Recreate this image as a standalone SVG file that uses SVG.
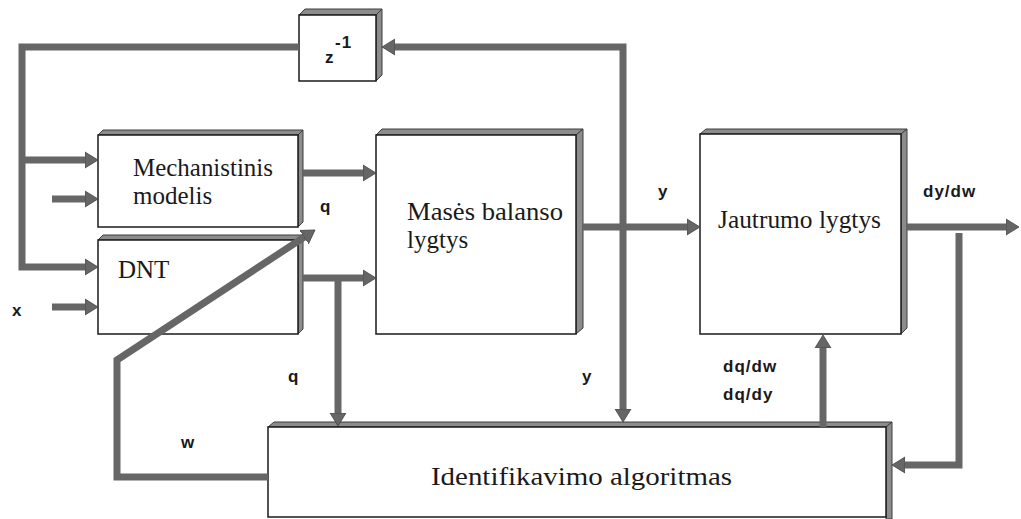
<svg xmlns="http://www.w3.org/2000/svg" width="1021" height="519" viewBox="0 0 1021 519">
  <style>
    .face { fill: #ffffff; stroke: #1a1a1a; stroke-width: 1.5; }
    .bevel { fill: #8c8c8c; stroke: #3c3c3c; stroke-width: 1; stroke-linejoin: round; }
    .wire { fill: none; stroke: #666666; stroke-width: 7; stroke-linejoin: miter; stroke-linecap: butt; }
    .head { fill: #666666; stroke: #444444; stroke-width: 0.8; }
    .box-text { font-family: "Liberation Serif", "Times New Roman", serif; font-size: 25px; fill: #1a1a1a; }
    .sig { font-family: "Liberation Sans", Arial, sans-serif; font-size: 17px; font-weight: bold; fill: #1a1a1a; letter-spacing: 1px; }
  </style>
  <defs>
    <marker id="arrow" markerUnits="userSpaceOnUse" markerWidth="16" markerHeight="18" viewBox="0 0 16 18" refX="3" refY="9" orient="auto">
      <path class="head" d="M0,1 L13,9 L0,17 z"/>
    </marker>
  </defs>

  <rect width="1021" height="519" fill="#ffffff"/>

  <!-- z^-1 delay -->
  <g id="delay">
    <polygon class="bevel" points="299,15 305,9 382,9 376,15"/>
    <polygon class="bevel" points="376,15 382,9 382,75 376,81"/>
    <rect class="face" x="299" y="15" width="77" height="66"/>
    <text class="sig" x="325" y="63" font-size="21" letter-spacing="0">z</text>
    <text class="sig" x="335" y="48" font-size="17" letter-spacing="0">-1</text>
  </g>

  <!-- mechanistic model -->
  <g id="mechanistinis">
    <polygon class="bevel" points="98,135 103,130 303,130 298,135"/>
    <polygon class="bevel" points="298,135 303,130 303,222 298,227"/>
    <rect class="face" x="98" y="135" width="200" height="92"/>
    <text class="box-text" x="133" y="176" textLength="140" lengthAdjust="spacingAndGlyphs">Mechanistinis</text>
    <text class="box-text" x="133" y="204">modelis</text>
  </g>

  <!-- neural network -->
  <g id="dnt">
    <polygon class="bevel" points="98,240 103,235 303,235 298,240"/>
    <polygon class="bevel" points="298,240 303,235 303,329 298,334"/>
    <rect class="face" x="98" y="240" width="200" height="94"/>
    <text class="box-text" x="118" y="278">DNT</text>
  </g>

  <!-- mass balance -->
  <g id="mases-balansas">
    <polygon class="bevel" points="376,135 382,129 583,129 576,135"/>
    <polygon class="bevel" points="576,135 583,129 583,328 576,334"/>
    <rect class="face" x="376" y="135" width="200" height="199"/>
    <text class="box-text" x="407" y="220" textLength="156" lengthAdjust="spacingAndGlyphs">Masės balanso</text>
    <text class="box-text" x="407" y="248">lygtys</text>
  </g>

  <!-- sensitivity equations -->
  <g id="jautrumo">
    <polygon class="bevel" points="700,134 706,129 907,129 901,134"/>
    <polygon class="bevel" points="901,134 907,129 907,328 901,334"/>
    <rect class="face" x="700" y="134" width="201" height="200"/>
    <text class="box-text" x="718" y="228" textLength="163" lengthAdjust="spacingAndGlyphs">Jautrumo lygtys</text>
  </g>

  <!-- identification algorithm -->
  <g id="identifikavimas">
    <polygon class="bevel" points="268,427 274,422 892,422 886,427"/>
    <polygon class="bevel" points="886,427 892,422 892,519 886,519"/>
    <rect class="face" x="268" y="427" width="618" height="90"/>
    <text class="box-text" x="431" y="485" font-size="28" textLength="301" lengthAdjust="spacingAndGlyphs">Identifikavimo algoritmas</text>
  </g>

  <!-- connectors, drawn over the blocks -->
  <g id="connectors">
    <!-- delayed feedback z^-1 to both model blocks -->
    <path class="wire" d="M299,47 H22 V267 H88" marker-end="url(#arrow)"/>
    <path class="wire" d="M22,160 H88" marker-end="url(#arrow)"/>
    <!-- external inputs -->
    <path class="wire" d="M52,199 H88" marker-end="url(#arrow)"/>
    <path class="wire" d="M52,307 H88" marker-end="url(#arrow)"/>
    <!-- q from both models into mass balance -->
    <path class="wire" d="M303,173 H366" marker-end="url(#arrow)"/>
    <path class="wire" d="M303,278 H366" marker-end="url(#arrow)"/>
    <path class="wire" d="M338,278 V416" marker-end="url(#arrow)"/>
    <!-- y from mass balance -->
    <path class="wire" d="M583,227 H690" marker-end="url(#arrow)"/>
    <path class="wire" d="M623,227 V47 H392" marker-end="url(#arrow)"/>
    <path class="wire" d="M623,227 V412" marker-end="url(#arrow)"/>
    <!-- dy/dw out of sensitivity equations -->
    <path class="wire" d="M907,227 H1009" marker-end="url(#arrow)"/>
    <path class="wire" d="M959,233 V465 H902" marker-end="url(#arrow)"/>
    <!-- dq/dw, dq/dy up into sensitivity equations -->
    <path class="wire" d="M823,427 V345" marker-end="url(#arrow)"/>
    <!-- w back to the network weights -->
    <path class="wire" d="M268,477 H117 V360 L306.6,235.5" marker-end="url(#arrow)"/>
  </g>

  <!-- signal labels -->
  <g id="labels">
    <text class="sig" x="12" y="316">x</text>
    <text class="sig" x="320" y="212">q</text>
    <text class="sig" x="658" y="197">y</text>
    <text class="sig" x="923" y="197" letter-spacing="3.5">dy/dw</text>
    <text class="sig" x="288" y="382">q</text>
    <text class="sig" x="181" y="448">w</text>
    <text class="sig" x="582" y="382">y</text>
    <text class="sig" x="723" y="372" letter-spacing="3">dq/dw</text>
    <text class="sig" x="723" y="400" letter-spacing="3">dq/dy</text>
  </g>
</svg>
